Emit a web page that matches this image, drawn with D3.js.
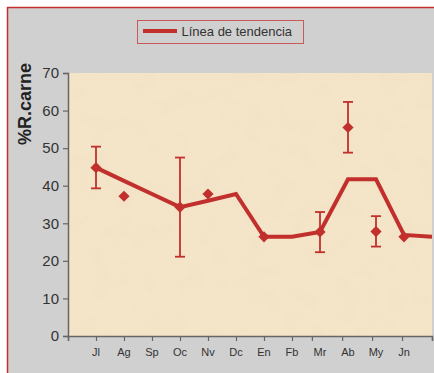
<!DOCTYPE html>
<html><head><meta charset="utf-8">
<script src="https://cdn.jsdelivr.net/npm/d3@7"></script>
<style>html,body{margin:0;padding:0;background:#fff}svg{display:block}</style>
</head><body>
<script>
const months = ["Jl","Ag","Sp","Oc","Nv","Dc","En","Fb","Mr","Ab","My","Jn"];
// trend line values at positions 1..13 (13 = right edge)
const trendPos = [1,2,3,4,5,6,7,8,9,10,11,12,13];
const trendVals = [44.8,41.3,37.8,34.3,36.0,37.8,26.4,26.4,27.7,41.7,41.7,26.9,26.4];
// measured points
const pointMonths = ["Jl","Ag","Oc","Nv","En","Mr","Ab","My","Jn"];
const pointVals = [44.8,37.2,34.3,37.8,26.4,27.7,55.5,27.8,26.4];
// error bars
const errMonths = ["Jl","Oc","Mr","Ab","My"];
const errLow = [39.3,21.1,22.3,48.8,23.8];
const errHigh = [50.4,47.5,33.0,62.3,31.9];
const yTicks = [0,10,20,30,40,50,60,70];
const xTickPos = [0,1,2,3,4,5,6,7,8,8.71,9.79,10.86,11.93,13];

const W=434,H=373, red="#c1302d";
const svg=d3.select("body").append("svg").attr("width",W).attr("height",H);
const defs=svg.append("defs");
const f=defs.append("filter").attr("id","paper").attr("x",0).attr("y",0).attr("width","100%").attr("height","100%");
f.append("feTurbulence").attr("type","fractalNoise").attr("baseFrequency","0.045").attr("numOctaves",4).attr("seed",7).attr("result","n");
f.append("feColorMatrix").attr("in","n").attr("type","matrix")
 .attr("values","0 0 0 0 0.88  0 0 0 0 0.74  0 0 0 0 0.52  0 0 0 -1.2 0.66").attr("result","c");
f.append("feComposite").attr("in","c").attr("in2","SourceGraphic").attr("operator","in");

svg.append("rect").attr("x",0).attr("y",0).attr("width",W).attr("height",H).attr("fill","#fff");
svg.append("rect").attr("x",7).attr("y",7).attr("width",W-7).attr("height",H-7).attr("fill","#d0d0d0");
svg.append("line").attr("x1",7).attr("x2",W).attr("y1",7.5).attr("y2",7.5).attr("stroke",red).attr("stroke-width",1.5);
svg.append("line").attr("x1",7.5).attr("x2",7.5).attr("y1",7).attr("y2",H).attr("stroke",red).attr("stroke-width",1.5);

const x=d3.scaleLinear().domain([0,13]).range([68,432]);
const y=d3.scaleLinear().domain([0,70]).range([336,73]);
const mx=m=>x(months.indexOf(m)+1);

// plot background
svg.append("rect").attr("x",x(0)).attr("y",y(70)).attr("width",x(13)-x(0)).attr("height",y(0)-y(70)).attr("fill","#f4e4c8");
svg.append("rect").attr("x",x(0)).attr("y",y(70)).attr("width",x(13)-x(0)).attr("height",y(0)-y(70)).attr("fill","#f4e4c8").attr("filter","url(#paper)").attr("opacity",0.6);

// axes
const ya=svg.append("g").attr("transform",`translate(${x(0)},0)`)
 .call(d3.axisLeft(y).tickValues(yTicks).tickSize(5).tickPadding(4));
ya.select(".domain").attr("stroke","#666").attr("stroke-width",1.5);
ya.selectAll(".tick line").attr("stroke","#666").attr("stroke-width",1.2);
ya.selectAll(".tick text").attr("font-family","Liberation Sans, Arial, sans-serif").attr("font-size",15).attr("fill","#333");

const xa=svg.append("g").attr("transform",`translate(0,${y(0)})`)
 .call(d3.axisBottom(x).tickValues(xTickPos).tickSize(5).tickFormat(""));
xa.select(".domain").attr("stroke","#666").attr("stroke-width",1.5);
xa.selectAll(".tick line").attr("stroke","#666").attr("stroke-width",1.2);
svg.append("g").selectAll("text").data(months).join("text")
 .attr("x",d=>mx(d)).attr("y",356).attr("text-anchor","middle")
 .attr("font-family","Liberation Sans, Arial, sans-serif").attr("font-size",11).attr("fill","#333").text(d=>d);

// y label
svg.append("text").attr("transform","translate(31,104) rotate(-90)").attr("text-anchor","middle")
 .attr("font-family","Liberation Sans, Arial, sans-serif").attr("font-weight","bold").attr("font-size",18).attr("fill","#222").text("%R.carne");

// trend line
svg.append("path").datum(trendPos.map((p,i)=>[p,trendVals[i]]))
 .attr("d",d3.line().x(d=>x(d[0])).y(d=>y(d[1])))
 .attr("fill","none").attr("stroke",red).attr("stroke-width",4).attr("stroke-linejoin","miter");

// error bars
const eg=svg.append("g").attr("stroke",red).attr("stroke-width",1.8);
errMonths.forEach((m,i)=>{
  const cx=mx(m);
  eg.append("line").attr("x1",cx).attr("x2",cx).attr("y1",y(errLow[i])).attr("y2",y(errHigh[i]));
  eg.append("line").attr("x1",cx-5).attr("x2",cx+5).attr("y1",y(errLow[i])).attr("y2",y(errLow[i]));
  eg.append("line").attr("x1",cx-5).attr("x2",cx+5).attr("y1",y(errHigh[i])).attr("y2",y(errHigh[i]));
});

// diamonds
svg.append("g").selectAll("path").data(pointMonths).join("path")
 .attr("transform",(d,i)=>`translate(${mx(d)},${y(pointVals[i])})`)
 .attr("d","M0,-5.6L5.6,0L0,5.6L-5.6,0Z").attr("fill",red);

// legend
svg.append("rect").attr("x",137.5).attr("y",20.5).attr("width",166).attr("height",23).attr("fill","none").attr("stroke","#c85a5a").attr("stroke-width",1);
svg.append("line").attr("x1",143).attr("x2",177).attr("y1",31).attr("y2",31).attr("stroke",red).attr("stroke-width",4);
svg.append("text").attr("x",181.5).attr("y",36).attr("font-family","Liberation Sans, Arial, sans-serif").attr("font-size",13).attr("fill","#333").text("Línea de tendencia");
</script>
</body></html>
